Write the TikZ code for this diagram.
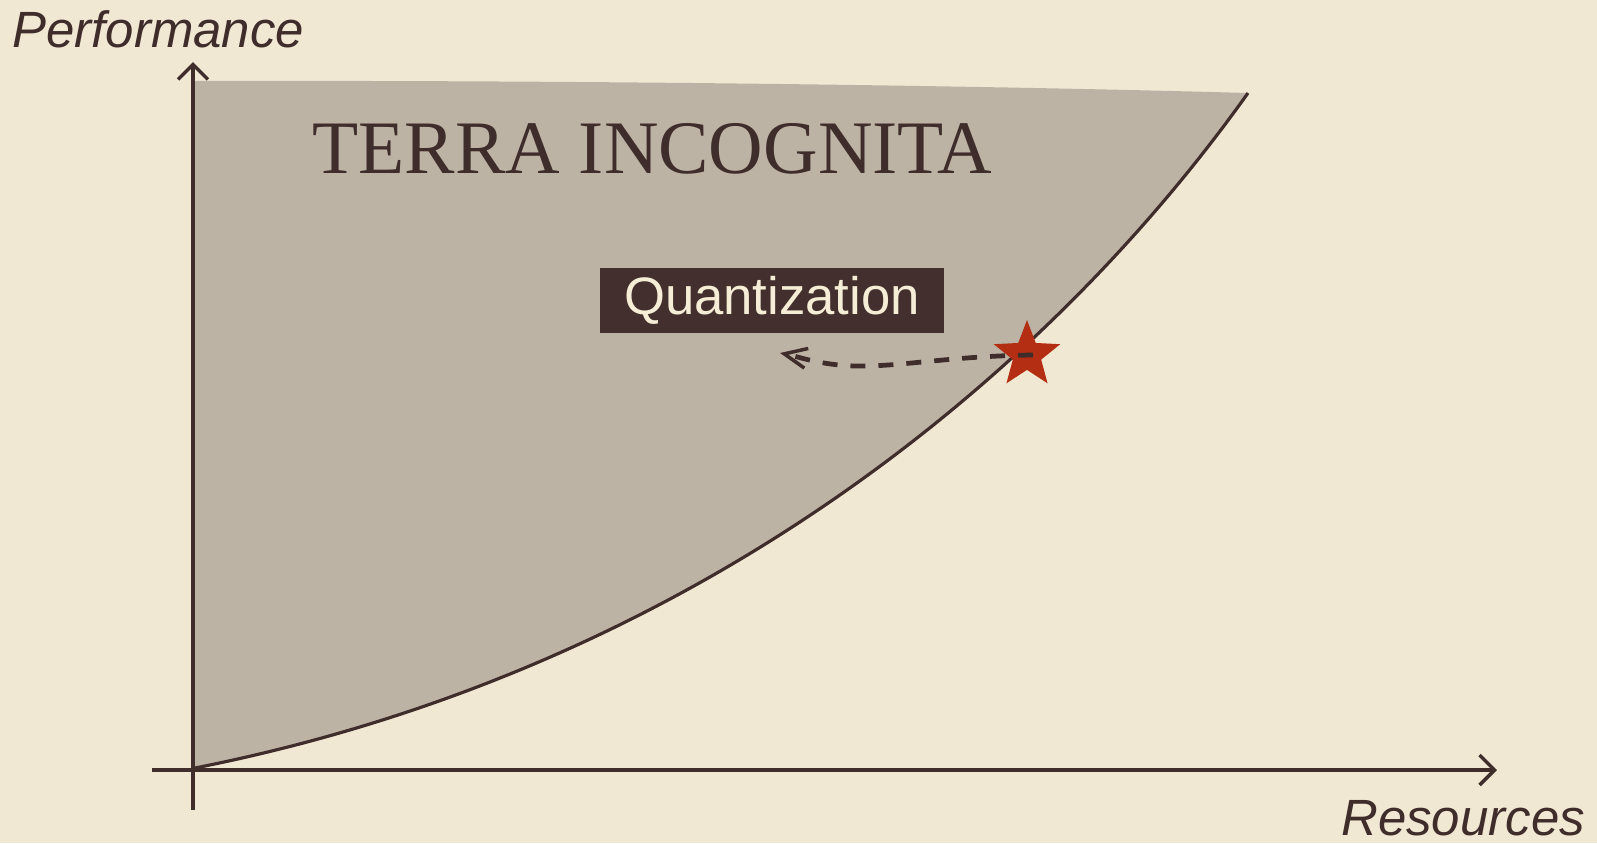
\documentclass[tikz,border=0pt]{standalone}
\usepackage{fontspec}
\setmainfont{Liberation Serif}
\newfontfamily\labelfont{Liberation Sans}
\usetikzlibrary{shapes.geometric, arrows.meta, positioning}
\definecolor{parchment}{HTML}{F0E8D3}
\definecolor{terraFill}{HTML}{BDB3A5}
\definecolor{inkBrown}{HTML}{3E2D2B}
\definecolor{boxBrown}{HTML}{43302E}
\definecolor{creamText}{HTML}{F6EDD6}
\definecolor{starRed}{HTML}{B32E12}

\begin{document}
\begin{tikzpicture}[
  x=0.02cm, y=-0.02cm,
  axis/.style={inkBrown, line width=2pt, -{Straight Barb[length=0.3cm, width=0.6cm, line width=2pt]}},
  frontier/.style={inkBrown, line width=1.8pt, line join=round},
  axislabel/.style={inkBrown, inner sep=0pt, font=\labelfont\itshape\fontsize{29pt}{34pt}\selectfont},
  title/.style={inkBrown, inner sep=0pt, font=\fontsize{43pt}{50pt}\selectfont},
  quantbox/.style={fill=boxBrown, text=creamText, inner sep=0pt, minimum width=6.9cm, minimum height=1.3cm, font=\labelfont\fontsize{30pt}{36pt}\selectfont},
  starmark/.style={star, star points=5, star point ratio=2.35, fill=starRed, minimum size=1.4cm, inner sep=0pt},
  moveline/.style={inkBrown, line width=2.7pt, dash pattern=on 0.3cm off 0.26cm, -{Straight Barb[length=0.45cm, width=0.4cm, line width=2pt]}}
]
  % paper
  \fill[parchment] (0,0) rectangle (1597,843);

  % unexplored region above the frontier
  \fill[terraFill] (193,81) .. controls (600,80) and (1000,86) .. (1248,93)
    .. controls (1050,371) and (700,668) .. (195,768) -- cycle;
  \draw[frontier] (195,768) .. controls (700,668) and (1050,371) .. (1248,93);

  % axes
  \coordinate (ybottom) at (193,810);
  \coordinate (ytip) at (193,62);
  \coordinate (xleft) at (152,770);
  \coordinate (xtip) at (1497,770);
  \draw[axis] (ybottom) -- (ytip);
  \draw[axis] (xleft) -- (xtip);

  \node[axislabel, anchor=base west] (perf) at (12,47) {Performance};
  \node[axislabel, anchor=base west] (res) at (1341,835) {Resources};

  \node[title, anchor=base west] (terra) at (312,173) {TERRA INCOGNITA};
  \node[quantbox] (quant) at (772,300) {Quantization};

  \node[starmark] (best) at (1027,355) {};
  \coordinate (moved) at (780,353);
  \draw[moveline] ([xshift=0.12cm]best.center) .. controls (950,356) and (900,367) .. (855,366)
    .. controls (820,365) and (800,357) .. (moved);
\end{tikzpicture}
\end{document}
